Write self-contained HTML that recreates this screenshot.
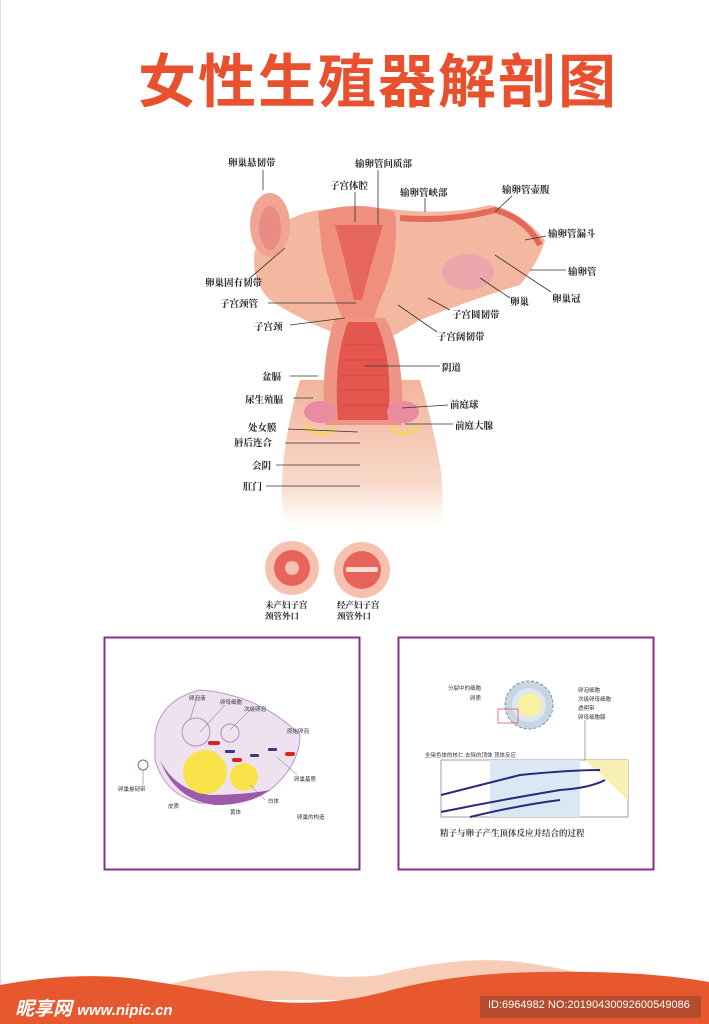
<!DOCTYPE html>
<html><head><meta charset="utf-8"><style>
html,body{margin:0;padding:0;background:#fff}
body{width:709px;height:1024px;position:relative;overflow:hidden;font-family:"Liberation Sans","Noto Sans CJK SC",sans-serif}
.t{position:absolute;font-size:9.5px;font-weight:bold;color:#222;white-space:nowrap;font-family:"Liberation Serif","Noto Serif CJK SC",serif}
.s{position:absolute;font-size:5.5px;color:#333;white-space:nowrap;font-family:"Liberation Sans","Noto Sans CJK SC",sans-serif}
</style></head><body>
<div style="position:absolute;left:0;top:0;width:1px;height:1024px;background:#ddd"></div>
<div style="position:absolute;left:138px;top:48px;font-size:58px;font-weight:bold;color:#e8502e;letter-spacing:2px;font-family:'Liberation Sans','Noto Sans CJK SC',sans-serif;line-height:70px">女性生殖器解剖图</div>

<svg width="709" height="1024" style="position:absolute;left:0;top:0">
<defs>
<linearGradient id="lg" x1="0" y1="0" x2="0" y2="1"><stop offset="0" stop-color="#f2b49c"/><stop offset="0.7" stop-color="#f8d8c8"/><stop offset="1" stop-color="#fff"/></linearGradient>
</defs>
<path d="M300 380 Q285 430 282 480 Q280 510 288 525 L440 525 Q445 500 440 465 Q432 420 420 380 Z" fill="url(#lg)"/>
<path d="M255 250 Q280 215 320 210 Q360 205 400 210 Q450 215 490 205 Q520 210 545 240 Q540 260 520 285 Q470 300 420 320 L395 335 L340 335 Q300 320 270 300 Q250 280 255 250Z" fill="#f4b8a0"/>
<path d="M400 218 Q450 222 495 210 Q525 218 540 245" stroke="#e36a5a" stroke-width="6" fill="none"/>
<ellipse cx="270" cy="225" rx="20" ry="32" fill="#f0a594"/>
<ellipse cx="270" cy="228" rx="11" ry="22" fill="#e98c86"/>
<ellipse cx="468" cy="272" rx="26" ry="18" fill="#eea6ad"/>
<path d="M318 212 Q355 200 395 212 Q400 260 380 300 L372 325 L345 325 Q330 290 322 250 Z" fill="#ef8f7e"/>
<path d="M335 225 L383 225 Q372 260 362 300 L354 300 Q345 260 335 225Z" fill="#e6655c"/>
<path d="M335 318 L385 318 Q405 350 402 425 L325 425 Q320 360 335 318Z" fill="#ee9585"/>
<path d="M348 322 L376 322 Q394 360 388 420 L338 420 Q333 360 348 322Z" fill="#e3574e"/>
<g stroke="#d04640" stroke-width="0.8">
<line x1="345" y1="345" x2="382" y2="345"/><line x1="342" y1="360" x2="386" y2="360"/><line x1="341" y1="375" x2="387" y2="375"/><line x1="340" y1="390" x2="388" y2="390"/><line x1="340" y1="405" x2="388" y2="405"/></g>
<ellipse cx="320" cy="412" rx="16" ry="11" fill="#e98ca0"/>
<ellipse cx="403" cy="412" rx="16" ry="11" fill="#e98ca0"/>
<path d="M305 425 Q320 440 335 428" stroke="#f6d36a" stroke-width="4" fill="none"/>
<path d="M390 428 Q405 440 420 425" stroke="#f6d36a" stroke-width="4" fill="none"/>
<g stroke="#333" stroke-width="0.8" fill="none">
<path d="M263 170 V190"/><path d="M378 170 V225"/><path d="M355 192 V222"/><path d="M425 198 V212"/>
<path d="M512 196 L495 212"/><path d="M546 236 L525 240"/><path d="M566 270 L530 270"/>
<path d="M551 292 L495 255"/><path d="M510 298 L480 278"/><path d="M450 310 L428 298"/>
<path d="M437 332 L398 305"/><path d="M250 278 L285 248"/><path d="M268 303 L356 303"/>
<path d="M290 325 L345 318"/><path d="M440 366 L365 366"/><path d="M290 376 L318 376"/>
<path d="M293 398 L313 398"/><path d="M448 405 L402 408"/><path d="M453 424 L405 424"/>
<path d="M288 429 L358 432"/><path d="M285 443 L360 443"/><path d="M276 465 L360 465"/><path d="M266 486 L360 486"/>
</g>
<circle cx="292" cy="568" r="27" fill="#f6c1ae"/><circle cx="292" cy="568" r="18" fill="#e8645a"/><circle cx="292" cy="568" r="7" fill="#f6c1ae"/>
<circle cx="362" cy="570" r="28" fill="#f6c1ae"/><circle cx="362" cy="570" r="19" fill="#e8645a"/><rect x="346" y="567" width="32" height="5" rx="2" fill="#f9dcd0"/>
<rect x="104.5" y="637.5" width="255" height="232" fill="#fff" stroke="#8a2f8a" stroke-width="2"/>
<rect x="398.5" y="637.5" width="255" height="232" fill="#fff" stroke="#8a2f8a" stroke-width="2"/>
<path d="M155 735 Q160 700 200 690 Q260 695 300 735 Q300 765 270 790 Q240 805 200 803 Q165 795 155 760Z" fill="#efe2f0" stroke="#b79ac4"/>
<path d="M160 760 Q175 800 215 805 Q250 805 270 790 Q245 795 210 795 Q175 790 160 760Z" fill="#9d5aa8"/>
<circle cx="205" cy="772" r="22" fill="#f8e34a"/><circle cx="244" cy="777" r="14" fill="#f8e34a"/>
<circle cx="196" cy="732" r="14" fill="none" stroke="#b38dbf"/><circle cx="230" cy="733" r="9" fill="none" stroke="#b38dbf"/>
<circle cx="143" cy="765" r="5" fill="none" stroke="#8a5a9a"/>
<g fill="#d22"><rect x="208" y="741" width="12" height="4" rx="2"/><rect x="232" y="758" width="10" height="4" rx="2"/><rect x="285" y="752" width="10" height="4" rx="2"/></g>
<g fill="#3a3a8a"><rect x="225" y="750" width="10" height="3" rx="1"/><rect x="250" y="754" width="9" height="3" rx="1"/><rect x="268" y="748" width="9" height="3" rx="1"/></g>
<g stroke="#666" stroke-width="0.5"><line x1="196" y1="700" x2="190" y2="720"/><line x1="225" y1="705" x2="200" y2="732"/><line x1="250" y1="710" x2="230" y2="730"/><line x1="143" y1="770" x2="143" y2="785"/><line x1="277" y1="757" x2="297" y2="775"/><line x1="250" y1="785" x2="265" y2="800"/></g>
<circle cx="529" cy="705" r="24" fill="#c6d6e4" stroke="#7a90a8" stroke-dasharray="3 2"/>
<circle cx="529" cy="705" r="17" fill="#dfe8f0"/><circle cx="530" cy="705" r="12" fill="#f7f1a0"/>
<rect x="498" y="709" width="20" height="14" fill="none" stroke="#e55" stroke-width="0.8"/>
<rect x="441" y="760" width="187" height="57" fill="#fff" stroke="#888" stroke-width="0.8"/>
<rect x="490" y="760" width="90" height="57" fill="#dbe8f4"/>
<path d="M585 760 H628 V800 Z" fill="#f7f0b0"/>
<g stroke="#2a2a7a" stroke-width="2" fill="none"><path d="M441 795 Q480 785 520 775 Q570 770 600 770"/><path d="M441 812 Q500 800 560 790 Q590 788 605 780"/><path d="M470 817 Q520 805 560 800"/></g>
<line x1="585" y1="720" x2="585" y2="760" stroke="#888" stroke-width="0.8"/>
<path d="M150 990 Q230 965 300 972 Q340 980 380 975 Q460 955 520 962 Q580 970 640 990 L640 1000 L150 1000Z" fill="#f8cdb8"/>
<path d="M0 985 Q70 972 130 978 Q200 988 260 1000 Q320 1008 380 993 Q450 973 540 972 Q640 970 709 982 L709 1024 L0 1024Z" fill="#e8582e"/>
<rect x="480" y="996" width="221" height="22" fill="#a34a2e" opacity="0.75"/>
</svg>

<div class="t" style="left:228px;top:155px">卵巢悬韧带</div>
<div class="t" style="left:355px;top:156px">输卵管间质部</div>
<div class="t" style="left:330px;top:178px">子宫体腔</div>
<div class="t" style="left:400px;top:185px">输卵管峡部</div>
<div class="t" style="left:502px;top:182px">输卵管壶腹</div>
<div class="t" style="left:548px;top:226px">输卵管漏斗</div>
<div class="t" style="left:568px;top:264px">输卵管</div>
<div class="t" style="left:552px;top:291px">卵巢冠</div>
<div class="t" style="left:510px;top:294px">卵巢</div>
<div class="t" style="left:452px;top:307px">子宫圆韧带</div>
<div class="t" style="left:437px;top:329px">子宫阔韧带</div>
<div class="t" style="left:205px;top:275px">卵巢固有韧带</div>
<div class="t" style="left:220px;top:296px">子宫颈管</div>
<div class="t" style="left:254px;top:319px">子宫颈</div>
<div class="t" style="left:442px;top:360px">阴道</div>
<div class="t" style="left:262px;top:369px">盆膈</div>
<div class="t" style="left:245px;top:392px">尿生殖膈</div>
<div class="t" style="left:450px;top:397px">前庭球</div>
<div class="t" style="left:455px;top:418px">前庭大腺</div>
<div class="t" style="left:248px;top:420px">处女膜</div>
<div class="t" style="left:234px;top:435px">唇后连合</div>
<div class="t" style="left:252px;top:458px">会阴</div>
<div class="t" style="left:243px;top:479px">肛门</div>
<div class="t" style="left:265px;top:600px;font-size:8.5px;line-height:11px">未产妇子宫<br>颈管外口</div>
<div class="t" style="left:337px;top:600px;font-size:8.5px;line-height:11px">经产妇子宫<br>颈管外口</div>
<div class="s" style="left:189px;top:694px">卵泡液</div>
<div class="s" style="left:220px;top:698px">卵母细胞</div>
<div class="s" style="left:244px;top:705px">次级卵泡</div>
<div class="s" style="left:287px;top:727px">原始卵泡</div>
<div class="s" style="left:294px;top:775px">卵巢基质</div>
<div class="s" style="left:118px;top:785px">卵巢悬韧带</div>
<div class="s" style="left:168px;top:802px">皮质</div>
<div class="s" style="left:268px;top:797px">白体</div>
<div class="s" style="left:230px;top:808px">黄体</div>
<div class="s" style="left:297px;top:813px">卵巢的构造</div>
<div class="s" style="left:448px;top:684px">分裂中的细胞</div>
<div class="s" style="left:470px;top:694px">卵质</div>
<div class="s" style="left:578px;top:686px">卵泡细胞</div>
<div class="s" style="left:578px;top:695px">次级卵母细胞</div>
<div class="s" style="left:578px;top:704px">透明带</div>
<div class="s" style="left:578px;top:713px">卵母细胞膜</div>
<div class="s" style="left:425px;top:751px">全染色体的核仁 去除的顶体 顶体反应</div>
<div class="t" style="left:440px;top:827px;font-size:8.5px;color:#444">精子与卵子产生顶体反应并结合的过程</div>
<div style="position:absolute;left:15px;top:994px;color:#fff;font-weight:bold;font-size:19px;font-style:italic;font-family:'Liberation Sans','Noto Sans CJK SC',sans-serif">昵享网 <span style="font-size:15px">www.nipic.cn</span></div>
<div style="position:absolute;left:488px;top:999px;color:#fff;font-size:11px;font-family:'Liberation Sans',sans-serif">ID:6964982 NO:20190430092600549086</div>
</body></html>
